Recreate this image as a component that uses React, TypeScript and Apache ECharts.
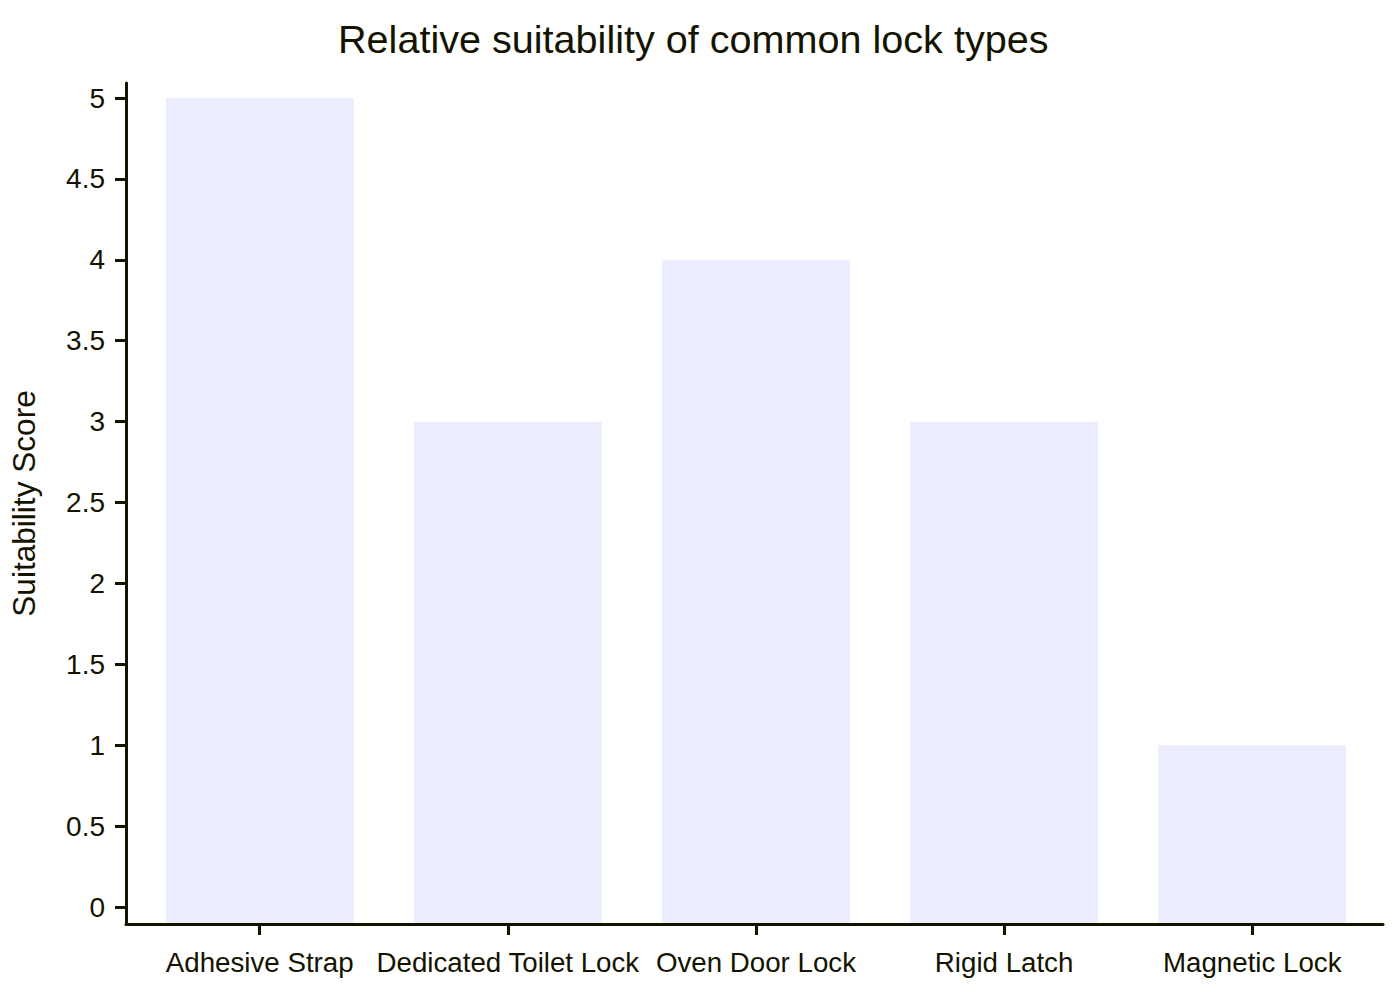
import React, { useEffect, useRef } from "react";
import * as echarts from "echarts";

const categories = ["Adhesive Strap", "Dedicated Toilet Lock", "Oven Door Lock", "Rigid Latch", "Magnetic Lock"];
const scores = [5, 3, 4, 3, 1];
const yTicks = [0, 0.5, 1, 1.5, 2, 2.5, 3, 3.5, 4, 4.5, 5];
const titleText = "Relative suitability of common lock types";
const yAxisName = "Suitability Score";

const INK = "#131300";
const BAR = "#ECECFF";
const FONT = "'Liberation Sans', Arial, sans-serif";

const Y_MIN = -0.105;
const Y_MAX = 5.093;
const X_MIN = -0.539;
const X_MAX = 4.527;

export default function App() {
  const ref = useRef<HTMLDivElement>(null);
  useEffect(() => {
    if (!ref.current) return;
    const chart = echarts.init(ref.current, null, { renderer: "svg" });
    const xIdx = categories.map((_, i) => i);
    chart.setOption({
      animation: false,
      backgroundColor: "#ffffff",
      textStyle: { fontFamily: FONT },
      title: {
        text: titleText,
        left: 333,
        top: 14,
        textStyle: { fontFamily: FONT, fontSize: 39.6, fontWeight: "normal", color: INK },
      },
      grid: { left: 124, right: 17, top: 83, bottom: 76, containLabel: false },
      xAxis: {
        type: "value",
        min: X_MIN,
        max: X_MAX,
        z: 5,
        splitLine: { show: false },
        axisLine: { show: true, onZero: false, lineStyle: { color: INK, width: 3 } },
        axisTick: { show: true, customValues: xIdx, length: 11, lineStyle: { color: INK, width: 3 } },
        axisLabel: {
          customValues: xIdx,
          margin: 24,
          fontSize: 27.7,
          fontFamily: FONT,
          color: INK,
          formatter: (v: number) => categories[Math.round(v)] ?? "",
        },
      },
      yAxis: {
        type: "value",
        min: Y_MIN,
        max: Y_MAX,
        z: 5,
        name: yAxisName,
        nameLocation: "middle",
        nameGap: 86,
        nameTextStyle: { fontFamily: FONT, fontSize: 31.6, color: INK },
        splitLine: { show: false },
        axisLine: { show: true, onZero: false, lineStyle: { color: INK, width: 3 } },
        axisTick: { show: true, customValues: yTicks, length: 11, lineStyle: { color: INK, width: 3 } },
        axisLabel: {
          customValues: yTicks,
          margin: 21,
          fontSize: 28,
          fontFamily: FONT,
          color: INK,
          formatter: (v: number) => String(v),
        },
      },
      series: [
        {
          type: "custom",
          z: 1,
          data: scores.map((s, i) => [i, s]),
          encode: { x: 0, y: 1 },
          renderItem: (params: any, api: any) => {
            const x = api.value(0);
            const v = api.value(1);
            const top = api.coord([x, v]);
            const bottom = api.coord([x, Y_MIN]);
            const w = api.size([1, 0])[0] * 0.757;
            return {
              type: "rect",
              shape: { x: top[0] - w / 2, y: top[1], width: w, height: bottom[1] - top[1] },
              style: { fill: BAR },
            };
          },
        },
      ],
    });
    return () => chart.dispose();
  }, []);
  return (
    <div
      ref={ref}
      style={{ position: "fixed", left: 0, top: 0, width: 1400, height: 1000, background: "#fff" }}
    />
  );
}
